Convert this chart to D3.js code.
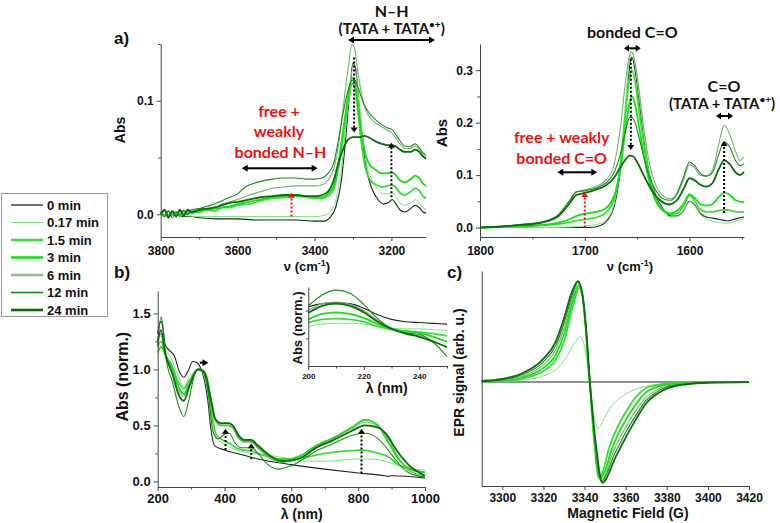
<!DOCTYPE html>
<html>
<head>
<meta charset="utf-8">
<script src="https://cdn.jsdelivr.net/npm/d3@7"></script>
<style>
  body { margin: 0; background: #fff; }
  svg text { font-family: "Liberation Sans", Arial, sans-serif; font-weight: bold; fill: #111; }
  svg text.ann { font-family: Lato, "Open Sans", sans-serif; }
  svg text.red { fill: #ee1111; }
</style>
</head>
<body>
<svg id="fig" width="780" height="523"></svg>
<script>
const times = ["0 min", "0.17 min", "1.5 min", "3 min", "6 min", "12 min", "24 min"];
const lineColors = ["#222222", "#7ee27e", "#3ddc3d", "#14e014", "#72b272", "#1b8a1b", "#0c6c0c"];
const lineWidths = [1.1, 1, 1.8, 1.8, 1.1, 1.1, 1.8];
const legendWidths = [1.3, 1, 2.6, 2.6, 2.6, 1.6, 2.6];

// a) N–H region, [wavenumber cm-1, Abs]
const nhSeries = [
  [[3800,0.001],[3780,-0.001],[3760,0.000],[3740,-0.002],[3720,-0.002],[3700,-0.003],[3650,-0.004],[3600,-0.004],[3550,-0.005],[3500,-0.005],[3450,-0.005],[3400,-0.006],[3375,-0.006],[3360,-0.003],[3345,0.006],[3330,0.03],[3318,0.07],[3308,0.11],[3300,0.133],[3293,0.128],[3285,0.1],[3275,0.065],[3265,0.04],[3250,0.022],[3235,0.013],[3220,0.009],[3205,0.011],[3198,0.013],[3190,0.01],[3178,0.004],[3165,0.002],[3150,0.005],[3138,0.008],[3128,0.006],[3118,0.002],[3110,0.001]],
  [[3800,0.0],[3750,-0.001],[3700,-0.002],[3650,-0.002],[3600,-0.002],[3500,-0.002],[3450,-0.002],[3400,-0.002],[3375,-0.001],[3360,0.002],[3345,0.012],[3330,0.04],[3318,0.08],[3308,0.115],[3300,0.128],[3293,0.125],[3285,0.1],[3275,0.07],[3265,0.045],[3250,0.03],[3235,0.022],[3220,0.018],[3205,0.018],[3198,0.019],[3190,0.016],[3178,0.01],[3165,0.008],[3150,0.01],[3138,0.013],[3128,0.01],[3118,0.006],[3110,0.005]],
  [[3800,0.001],[3790,-0.002],[3780,0.003],[3770,-0.001],[3760,0.002],[3750,-0.002],[3740,0.003],[3730,0.0],[3720,0.002],[3700,0.002],[3680,0.004],[3660,0.003],[3640,0.006],[3620,0.006],[3600,0.008],[3570,0.009],[3540,0.012],[3510,0.014],[3480,0.015],[3450,0.016],[3420,0.015],[3400,0.014],[3380,0.014],[3365,0.016],[3350,0.022],[3338,0.04],[3325,0.07],[3312,0.1],[3302,0.115],[3295,0.112],[3287,0.09],[3277,0.06],[3267,0.04],[3255,0.03],[3240,0.026],[3225,0.024],[3210,0.025],[3200,0.026],[3190,0.024],[3178,0.019],[3165,0.017],[3150,0.02],[3138,0.023],[3128,0.021],[3118,0.016],[3110,0.014]],
  [[3800,0.0],[3790,0.003],[3780,-0.002],[3770,0.002],[3760,-0.001],[3750,0.003],[3740,0.0],[3730,0.003],[3720,0.001],[3700,0.003],[3680,0.004],[3660,0.005],[3640,0.006],[3620,0.007],[3600,0.009],[3570,0.011],[3540,0.013],[3510,0.015],[3480,0.016],[3450,0.017],[3420,0.016],[3400,0.015],[3380,0.015],[3365,0.018],[3350,0.025],[3338,0.045],[3325,0.075],[3312,0.105],[3302,0.12],[3295,0.117],[3287,0.095],[3277,0.07],[3267,0.052],[3255,0.043],[3240,0.039],[3225,0.036],[3210,0.036],[3200,0.037],[3190,0.035],[3178,0.03],[3165,0.028],[3150,0.031],[3138,0.034],[3128,0.032],[3118,0.027],[3110,0.025]],
  [[3800,0.001],[3780,-0.001],[3760,0.002],[3740,0.0],[3720,0.003],[3700,0.004],[3680,0.005],[3660,0.006],[3640,0.009],[3620,0.011],[3600,0.013],[3570,0.017],[3540,0.02],[3510,0.023],[3480,0.024],[3450,0.025],[3420,0.025],[3400,0.025],[3380,0.026],[3365,0.03],[3350,0.04],[3338,0.06],[3325,0.095],[3312,0.13],[3302,0.15],[3295,0.145],[3287,0.125],[3277,0.105],[3267,0.092],[3255,0.085],[3240,0.08],[3225,0.077],[3210,0.074],[3200,0.072],[3190,0.068],[3178,0.062],[3165,0.058],[3150,0.058],[3138,0.06],[3128,0.057],[3118,0.052],[3110,0.05]],
  [[3800,0.002],[3790,-0.002],[3780,0.003],[3770,-0.003],[3760,0.002],[3750,-0.001],[3740,0.004],[3730,0.0],[3720,0.004],[3700,0.005],[3680,0.007],[3660,0.009],[3640,0.012],[3620,0.015],[3600,0.018],[3580,0.024],[3560,0.027],[3540,0.029],[3510,0.031],[3480,0.032],[3450,0.032],[3420,0.031],[3400,0.031],[3380,0.032],[3365,0.036],[3350,0.045],[3338,0.065],[3325,0.09],[3312,0.11],[3302,0.118],[3295,0.118],[3287,0.112],[3277,0.102],[3267,0.094],[3255,0.088],[3240,0.083],[3225,0.079],[3210,0.076],[3200,0.075],[3190,0.071],[3178,0.065],[3165,0.06],[3150,0.06],[3138,0.062],[3128,0.059],[3118,0.054],[3110,0.052]],
  [[3800,0.0],[3790,0.004],[3780,-0.003],[3770,0.003],[3760,-0.002],[3750,0.004],[3740,-0.001],[3730,0.004],[3720,0.002],[3700,0.004],[3680,0.005],[3660,0.006],[3640,0.008],[3620,0.01],[3600,0.011],[3570,0.013],[3540,0.015],[3510,0.016],[3480,0.017],[3450,0.017],[3420,0.016],[3400,0.016],[3380,0.017],[3365,0.02],[3350,0.03],[3338,0.045],[3325,0.058],[3312,0.066],[3300,0.068],[3285,0.068],[3270,0.069],[3255,0.067],[3240,0.064],[3225,0.062],[3210,0.061],[3200,0.061],[3190,0.06],[3178,0.057],[3165,0.055],[3150,0.055],[3138,0.057],[3128,0.055],[3118,0.051],[3110,0.049]]
];

// a) C=O region, [wavenumber cm-1, Abs]
const coSeries = [
  [[1800,0],[1760,0.0],[1740,0.0],[1720,0.0],[1705,0.0],[1695,0.0],[1685,0.004],[1678,0.015],[1672,0.04],[1666,0.11],[1661,0.22],[1657,0.31],[1655,0.325],[1652,0.3],[1648,0.24],[1643,0.16],[1638,0.1],[1632,0.06],[1625,0.035],[1618,0.022],[1612,0.022],[1606,0.032],[1600,0.05],[1595,0.043],[1590,0.028],[1584,0.02],[1578,0.018],[1570,0.015],[1565,0.013],[1560,0.014],[1555,0.017],[1548,0.02]],
  [[1800,0],[1740,0.0],[1705,0.002],[1695,0.004],[1685,0.008],[1678,0.018],[1672,0.045],[1666,0.12],[1661,0.24],[1657,0.325],[1655,0.335],[1652,0.31],[1648,0.25],[1643,0.17],[1638,0.1],[1632,0.055],[1625,0.03],[1618,0.02],[1612,0.021],[1606,0.032],[1600,0.05],[1595,0.042],[1590,0.026],[1584,0.016],[1578,0.012],[1570,0.009],[1565,0.008],[1560,0.01],[1555,0.013],[1548,0.017]],
  [[1800,0],[1760,0.002],[1740,0.004],[1720,0.008],[1705,0.014],[1695,0.017],[1685,0.022],[1678,0.032],[1672,0.055],[1666,0.12],[1661,0.22],[1657,0.29],[1655,0.3],[1652,0.28],[1648,0.22],[1643,0.15],[1638,0.095],[1632,0.055],[1625,0.033],[1618,0.025],[1612,0.027],[1606,0.04],[1600,0.062],[1595,0.05],[1590,0.035],[1584,0.03],[1578,0.03],[1570,0.033],[1565,0.034],[1560,0.032],[1555,0.03],[1548,0.03]],
  [[1800,0],[1760,0.003],[1740,0.005],[1720,0.012],[1705,0.024],[1695,0.028],[1685,0.032],[1678,0.04],[1672,0.06],[1666,0.11],[1661,0.19],[1657,0.24],[1655,0.25],[1652,0.235],[1648,0.19],[1643,0.13],[1638,0.085],[1632,0.05],[1625,0.032],[1618,0.027],[1612,0.032],[1606,0.045],[1600,0.063],[1595,0.056],[1590,0.045],[1584,0.042],[1578,0.045],[1572,0.058],[1567,0.066],[1562,0.063],[1556,0.052],[1548,0.048]],
  [[1800,0],[1780,0.002],[1760,0.005],[1740,0.01],[1725,0.022],[1715,0.045],[1708,0.068],[1700,0.072],[1690,0.078],[1680,0.09],[1672,0.12],[1666,0.19],[1661,0.28],[1657,0.33],[1655,0.335],[1652,0.315],[1648,0.26],[1643,0.18],[1638,0.12],[1632,0.08],[1625,0.06],[1618,0.055],[1612,0.063],[1606,0.09],[1600,0.12],[1595,0.114],[1590,0.1],[1584,0.098],[1578,0.11],[1572,0.16],[1567,0.195],[1562,0.18],[1556,0.145],[1552,0.128],[1548,0.135]],
  [[1800,0],[1780,0.002],[1760,0.006],[1740,0.011],[1725,0.025],[1715,0.05],[1708,0.068],[1700,0.07],[1690,0.075],[1680,0.085],[1672,0.105],[1666,0.14],[1661,0.185],[1657,0.21],[1655,0.21],[1652,0.2],[1648,0.17],[1643,0.13],[1638,0.095],[1632,0.07],[1625,0.055],[1618,0.052],[1612,0.065],[1606,0.095],[1600,0.125],[1595,0.118],[1590,0.104],[1584,0.098],[1578,0.105],[1572,0.14],[1567,0.163],[1562,0.155],[1556,0.128],[1552,0.118],[1548,0.122]],
  [[1800,0],[1780,0.002],[1760,0.005],[1740,0.01],[1725,0.022],[1715,0.045],[1708,0.062],[1700,0.066],[1690,0.072],[1680,0.08],[1672,0.095],[1666,0.115],[1661,0.13],[1657,0.137],[1654,0.136],[1650,0.125],[1645,0.105],[1640,0.085],[1634,0.065],[1627,0.05],[1620,0.044],[1613,0.05],[1606,0.072],[1600,0.094],[1595,0.09],[1590,0.082],[1584,0.078],[1578,0.085],[1572,0.112],[1567,0.128],[1562,0.122],[1556,0.105],[1552,0.1],[1548,0.106]]
];

// b) UV-vis, [wavelength nm, normalised Abs]
const uvSeries = [
  [[200,1.32],[205,1.4],[210,1.43],[215,1.38],[222,1.22],[235,1.17],[250,1.12],[265,0.98],[278,0.93],[290,0.98],[305,1.07],[318,1.06],[330,1.0],[340,0.9],[350,0.72],[360,0.45],[370,0.32],[400,0.28],[450,0.24],[500,0.2],[600,0.15],[700,0.11],[800,0.075],[880,0.05],[890,0.045],[900,0.05],[1000,0.03]],
  [[200,1.25],[210,1.3],[220,1.2],[240,1.1],[260,0.95],[278,0.85],[295,0.93],[310,0.98],[320,1.0],[335,0.97],[350,0.8],[365,0.52],[380,0.38],[400,0.33],[420,0.3],[450,0.27],[480,0.25],[520,0.24],[560,0.22],[600,0.2],[650,0.18],[700,0.18],[750,0.19],[800,0.2],[840,0.2],[880,0.18],[910,0.15],[950,0.12],[1000,0.1]],
  [[200,1.2],[210,1.25],[225,1.12],[240,1.05],[260,0.9],[278,0.83],[295,0.9],[320,1.0],[335,0.98],[350,0.85],[362,0.6],[375,0.42],[400,0.36],[420,0.33],[440,0.29],[480,0.27],[520,0.23],[560,0.2],[600,0.2],[650,0.22],[700,0.25],[760,0.27],[810,0.28],[850,0.26],[890,0.22],[920,0.15],[960,0.1],[1000,0.08]],
  [[200,1.15],[210,1.2],[230,1.08],[245,1.0],[262,0.85],[278,0.78],[295,0.88],[320,1.0],[335,0.99],[345,0.95],[360,0.72],[372,0.55],[390,0.5],[410,0.5],[425,0.48],[440,0.4],[460,0.36],[480,0.36],[500,0.3],[540,0.22],[570,0.19],[620,0.22],[680,0.33],[720,0.38],[780,0.48],[820,0.55],[860,0.5],[880,0.4],[900,0.3],[920,0.2],[950,0.12],[1000,0.08]],
  [[200,1.22],[210,1.32],[225,1.1],[245,0.98],[262,0.82],[278,0.76],[295,0.88],[320,1.0],[335,0.99],[345,0.93],[360,0.7],[372,0.55],[390,0.5],[410,0.5],[425,0.48],[440,0.39],[460,0.35],[480,0.35],[500,0.3],[540,0.2],[570,0.17],[620,0.2],[680,0.32],[720,0.37],[780,0.47],[820,0.53],[860,0.49],[890,0.38],[910,0.27],[950,0.1],[1000,0.05]],
  [[200,1.2],[210,1.47],[215,1.4],[225,1.1],[245,0.88],[262,0.68],[278,0.58],[295,0.75],[310,0.95],[320,1.0],[335,0.98],[345,0.9],[355,0.7],[365,0.45],[380,0.38],[400,0.42],[415,0.43],[430,0.35],[450,0.3],[480,0.3],[500,0.25],[530,0.15],[560,0.11],[600,0.14],[680,0.28],[720,0.33],[780,0.41],[820,0.43],[860,0.38],[890,0.28],[910,0.2],[950,0.08],[1000,0.04]],
  [[200,1.25],[210,1.35],[222,1.15],[245,0.95],[262,0.78],[278,0.72],[295,0.85],[320,1.0],[335,0.99],[345,0.93],[360,0.72],[372,0.56],[390,0.52],[410,0.52],[425,0.5],[440,0.42],[460,0.37],[480,0.37],[500,0.32],[540,0.22],[570,0.18],[620,0.2],[680,0.31],[720,0.36],[780,0.45],[820,0.5],[860,0.48],[890,0.4],[910,0.3],[950,0.15],[1000,0.05]]
];

// b) inset, 200–250 nm
const insetSeries = [
  [[200,1.35],[205,1.39],[210,1.4],[215,1.39],[220,1.33],[225,1.25],[230,1.19],[235,1.16],[240,1.15],[245,1.14],[250,1.13]],
  [[200,1.1],[205,1.13],[210,1.14],[215,1.14],[220,1.13],[225,1.1],[230,1.08],[235,1.07],[240,1.07],[245,1.06],[250,1.05]],
  [[200,1.15],[205,1.19],[210,1.2],[215,1.19],[220,1.16],[225,1.1],[230,1.06],[235,1.04],[240,1.03],[245,1.01],[250,0.98]],
  [[200,1.19],[205,1.26],[210,1.28],[215,1.26],[220,1.21],[225,1.13],[230,1.07],[235,1.04],[240,1.02],[245,0.97],[250,0.91]],
  [[200,1.3],[205,1.39],[210,1.41],[215,1.38],[220,1.3],[225,1.18],[230,1.08],[235,1.02],[240,0.98],[245,0.92],[250,0.83]],
  [[200,1.36],[205,1.5],[210,1.56],[215,1.52],[220,1.38],[225,1.2],[230,1.07],[235,1.02],[240,1.0],[245,0.9],[250,0.72]],
  [[200,1.27],[205,1.36],[210,1.39],[215,1.36],[220,1.28],[225,1.16],[230,1.07],[235,1.01],[240,0.97],[245,0.91],[250,0.84]]
];

// c) EPR, [field G, signal]
const eprSeries = [
  [[3290,0],[3340,0],[3380,0],[3420,0]],
  [[3290,0.003],[3300,0.008],[3310,0.02],[3320,0.06],[3326,0.12],[3331,0.24],[3335,0.38],[3338,0.45],[3340,0.35],[3342.5,0.0],[3344,-0.25],[3346.5,-0.46],[3349,-0.38],[3352,-0.27],[3356,-0.18],[3360,-0.12],[3365,-0.07],[3370,-0.04],[3380,-0.015],[3390,-0.005],[3400,0],[3420,0]],
  [[3290,0.004],[3300,0.012],[3310,0.035],[3320,0.11],[3326,0.22],[3330,0.4],[3334,0.72],[3337.5,0.93],[3339,0.85],[3340.5,0.55],[3342.5,0.0],[3344.5,-0.55],[3347,-0.95],[3349,-0.88],[3352,-0.65],[3356,-0.45],[3360,-0.3],[3365,-0.15],[3370,-0.06],[3375,-0.03],[3380,-0.015],[3390,-0.005],[3400,0],[3420,0]],
  [[3290,0.005],[3300,0.015],[3310,0.045],[3320,0.14],[3326,0.27],[3330,0.47],[3334,0.78],[3337.2,0.95],[3339,0.86],[3340.5,0.56],[3342.6,0.0],[3345,-0.6],[3347.5,-0.96],[3350,-0.88],[3353,-0.68],[3356,-0.53],[3360,-0.38],[3365,-0.22],[3370,-0.1],[3375,-0.05],[3380,-0.025],[3390,-0.008],[3400,0],[3420,0]],
  [[3290,0.006],[3300,0.02],[3310,0.06],[3320,0.17],[3326,0.32],[3330,0.53],[3334,0.82],[3337,0.97],[3339,0.87],[3340.5,0.57],[3342.6,0.0],[3345,-0.58],[3348,-0.98],[3350.5,-0.9],[3353,-0.74],[3356,-0.6],[3360,-0.45],[3365,-0.28],[3370,-0.15],[3375,-0.08],[3380,-0.04],[3390,-0.012],[3400,-0.003],[3420,0]],
  [[3290,0.008],[3300,0.025],[3310,0.075],[3320,0.2],[3326,0.36],[3330,0.58],[3334,0.86],[3336.8,0.99],[3338.8,0.88],[3340.5,0.58],[3342.6,0.0],[3345,-0.56],[3348.3,-0.99],[3351,-0.9],[3354,-0.74],[3357,-0.62],[3360,-0.5],[3365,-0.33],[3370,-0.18],[3375,-0.1],[3380,-0.05],[3390,-0.017],[3400,-0.005],[3420,0]],
  [[3290,0.01],[3300,0.03],[3310,0.09],[3320,0.23],[3326,0.4],[3330,0.63],[3334,0.9],[3336.8,1.0],[3338.8,0.89],[3340.5,0.6],[3342.6,0.0],[3345,-0.52],[3348.8,-1.0],[3351.5,-0.92],[3354.5,-0.77],[3357.5,-0.65],[3360,-0.55],[3365,-0.37],[3370,-0.21],[3375,-0.12],[3380,-0.065],[3390,-0.022],[3400,-0.007],[3420,0]]
];

const svg = d3.select("#fig");

function drawPanel(o) {
  const x = d3.scaleLinear().domain(o.xDomain).range(o.xRange);
  const y = d3.scaleLinear().domain(o.yDomain).range(o.yRange);
  const g = svg.append("g");
  const fs = o.fontSize || 12;

  // lines first, axes on top
  const line = d3.line().x(d => x(d[0])).y(d => y(d[1])).curve(d3.curveMonotoneX);
  o.series.forEach((s, i) => {
    g.append("path").attr("d", line(s)).attr("fill", "none")
      .attr("stroke", lineColors[i]).attr("stroke-width", lineWidths[i])
      .attr("stroke-linejoin", "round");
  });

  const xa = g.append("g").attr("transform", `translate(0,${o.yRange[0]})`)
    .call(d3.axisBottom(x).tickValues(o.xTicks).tickSize(4).tickSizeOuter(0)
      .tickPadding(o.xPad || 5).tickFormat(d3.format("d")));
  if (o.xMinor) {
    g.append("g").attr("transform", `translate(0,${o.yRange[0]})`)
      .call(d3.axisBottom(x).tickValues(o.xMinor).tickSize(2.5).tickFormat(""))
      .select(".domain").remove();
  }
  const ya = g.append("g").attr("transform", `translate(${o.xRange[0]},0)`)
    .call(d3.axisLeft(y).tickValues(o.yTicks || []).tickSize(4).tickSizeOuter(0)
      .tickPadding(3).tickFormat(d3.format(".1f")));
  if (o.yMinor) {
    g.append("g").attr("transform", `translate(${o.xRange[0]},0)`)
      .call(d3.axisLeft(y).tickValues(o.yMinor).tickSize(2.5).tickFormat(""))
      .select(".domain").remove();
  }
  g.selectAll(".domain, .tick line").attr("stroke", "#444").attr("stroke-width", 1);
  [xa, ya].forEach(a => a.attr("font-family", null).attr("font-size", null)
    .selectAll("text").style("font-size", fs + "px"));
  return { x, y, g };
}

// arrow helper: straight, optionally dotted, one or two heads
function arrow(x1, y1, x2, y2, opt = {}) {
  const color = opt.color || "#000";
  const len = Math.hypot(x2 - x1, y2 - y1);
  const ux = (x2 - x1) / len, uy = (y2 - y1) / len;
  const hl = opt.head || 6, hw = opt.hw || 3.5;
  const sx = opt.both ? x1 + ux * hl * 0.8 : x1, sy = opt.both ? y1 + uy * hl * 0.8 : y1;
  svg.append("line")
    .attr("x1", sx).attr("y1", sy)
    .attr("x2", x2 - ux * hl * 0.8).attr("y2", y2 - uy * hl * 0.8)
    .attr("stroke", color).attr("stroke-width", opt.w || 2)
    .attr("stroke-dasharray", opt.dotted ? "2,2" : null);
  const head = (tx, ty, dx, dy) => {
    const bx = tx - dx * hl, by = ty - dy * hl;
    svg.append("path")
      .attr("d", `M${tx},${ty}L${bx - dy * hw},${by + dx * hw}L${bx + dy * hw},${by - dx * hw}Z`)
      .attr("fill", color);
  };
  head(x2, y2, ux, uy);
  if (opt.both) head(x1, y1, -ux, -uy);
}

function label(txt, x, y, size, cls, anchor) {
  return svg.append("text").attr("x", x).attr("y", y)
    .attr("text-anchor", anchor || "middle").attr("class", cls || null)
    .style("font-size", size + "px").text(txt);
}

function vlabel(txt, cx, cy, size) {
  svg.append("text").attr("transform", `translate(${cx},${cy}) rotate(-90)`)
    .attr("text-anchor", "middle").attr("dy", "0.35em")
    .style("font-size", size + "px").text(txt);
}

function wavenumberLabel(cx, y) {
  const t = svg.append("text").attr("x", cx).attr("y", y).attr("text-anchor", "middle").style("font-size", "13px");
  t.append("tspan").text("ν (cm");
  t.append("tspan").attr("dy", -5).style("font-size", "9px").text("-1");
  t.append("tspan").attr("dy", 5).text(")");
}

function tataLabel(cx, y, size) {
  const t = svg.append("text").attr("class", "ann").attr("x", cx).attr("y", y)
    .attr("text-anchor", "middle").style("font-size", size + "px");
  t.append("tspan").text("(TATA + TATA");
  t.append("tspan").attr("dy", -6).style("font-size", "10px").text("•+");
  t.append("tspan").attr("dy", 6).text(")");
}

// ---- a) left: N–H ----
const pA1 = drawPanel({
  series: nhSeries,
  xDomain: [3800, 3110], xRange: [160.7, 426],
  yDomain: [-0.02, 0.15], yRange: [237, 44],
  xTicks: [3800, 3600, 3400, 3200], xMinor: [3700, 3500, 3300],
  yTicks: [0, 0.1], yMinor: [0.05, 0.15], xPad: 5
});

// ---- a) right: C=O ----
const pA2 = drawPanel({
  series: coSeries,
  xDomain: [1800, 1548], xRange: [480, 744],
  yDomain: [-0.018, 0.35], yRange: [237, 44],
  xTicks: [1800, 1700, 1600], xMinor: [1750, 1650, 1550],
  yTicks: [0, 0.1, 0.2, 0.3], yMinor: [0.05, 0.15, 0.25], xPad: 5
});

// ---- b) UV-vis ----
const pB = drawPanel({
  series: uvSeries,
  xDomain: [200, 1000], xRange: [157.7, 425],
  yDomain: [-0.05, 1.7], yRange: [487, 291],
  xTicks: [200, 400, 600, 800, 1000], xMinor: [300, 500, 700, 900],
  yTicks: [0, 0.5, 1, 1.5], yMinor: [0.25, 0.75, 1.25], fontSize: 13, xPad: 3
});

// inset
const pIn = drawPanel({
  series: insetSeries,
  xDomain: [200, 250], xRange: [308.3, 447],
  yDomain: [0.6, 1.6], yRange: [366, 287],
  xTicks: [200, 220, 240], xMinor: [210, 230, 250],
  yTicks: [], yMinor: [0.95, 1.3], fontSize: 8, xPad: 3
});

// ---- c) EPR ----
const pC = drawPanel({
  series: eprSeries,
  xDomain: [3290, 3420], xRange: [481.7, 749],
  yDomain: [-1.03, 1.1], yRange: [486, 271],
  xTicks: d3.range(3300, 3421, 20), yTicks: [], xPad: 3
});

// panel letters
label("a)", 114, 44, 17, null, "start");
label("b)", 114, 278, 17, null, "start");
label("c)", 447, 278, 17, null, "start");

// axis titles
vlabel("Abs", 120, 130, 14);
vlabel("Abs", 441.7, 133, 15);
vlabel("Abs (norm.)", 122.5, 376.7, 16);
vlabel("Abs (norm.)", 297.5, 328, 13);
vlabel("EPR signal (arb. u.)", 459, 372.5, 14);
wavenumberLabel(307, 271);
wavenumberLabel(630, 271);
label("λ (nm)", 301.7, 519, 14);
label("λ (nm)", 386.7, 393, 14);
label("Magnetic Field (G)", 628, 518, 14);

// ---- annotations, top ----
label("N–H", 391.7, 17, 16, "ann");
tataLabel(391.7, 34, 15);
arrow(348, 40, 435, 40, { both: true });

label("bonded C=O", 632.3, 38, 16, "ann");
arrow(624, 48.3, 640.7, 48.3, { both: true, head: 5 });
label("C=O", 724, 91.5, 16, "ann");
tataLabel(722, 108.5, 15);
arrow(716, 116, 733, 116, { both: true, head: 5 });

label("free + weakly", 561.7, 143, 16, "ann red");
label("bonded C=O", 561.7, 164, 16, "ann red");
arrow(557.3, 172.3, 597.3, 172.3, { both: true });

label("free +", 279, 116.5, 16, "ann red");
label("weakly", 279, 137, 16, "ann red");
label("bonded N–H", 280.5, 158, 16, "ann red");
arrow(241.7, 168.3, 317.7, 168.3, { both: true });

// dotted arrows on data positions
const red = "#ee1111";
arrow(pA1.x(3460), pA1.y(-0.002), pA1.x(3460), pA1.y(0.019), { dotted: true, color: red, head: 5 });
arrow(pA1.x(3297), pA1.y(0.138), pA1.x(3297), pA1.y(0.072), { dotted: true, head: 5 });
arrow(pA1.x(3200), pA1.y(0.015), pA1.x(3200), pA1.y(0.063), { dotted: true, head: 5 });
arrow(pA2.x(1700), pA2.y(0.0), pA2.x(1700), pA2.y(0.068), { dotted: true, color: red, head: 5 });
arrow(pA2.x(1656), pA2.y(0.322), pA2.x(1656), pA2.y(0.148), { dotted: true, head: 5 });
arrow(pA2.x(1567), pA2.y(0.028), pA2.x(1567), pA2.y(0.165), { dotted: true, head: 5 });

arrow(pB.x(326), pB.y(1.06), pB.x(352), pB.y(1.06), { head: 6 });
arrow(pB.x(403), pB.y(0.28), pB.x(403), pB.y(0.47), { dotted: true, head: 5 });
arrow(pB.x(480), pB.y(0.2), pB.x(480), pB.y(0.34), { dotted: true, head: 5 });
arrow(pB.x(810), pB.y(0.07), pB.x(810), pB.y(0.47), { dotted: true, head: 5 });

// ---- legend ----
const lg = svg.append("g");
lg.append("rect").attr("x", 1.5).attr("y", 193.5).attr("width", 106).attr("height", 123)
  .attr("fill", "#fff").attr("stroke", "#999").attr("stroke-width", 1);
times.forEach((t, i) => {
  const yy = 205 + i * 17.5;
  lg.append("line").attr("x1", 11).attr("x2", 43).attr("y1", yy).attr("y2", yy)
    .attr("stroke", i === 4 ? "#8fbf8f" : lineColors[i]).attr("stroke-width", legendWidths[i]);
  lg.append("text").attr("x", 47).attr("y", yy + 4.5).style("font-size", "13px").text(t);
});
</script>
</body>
</html>
